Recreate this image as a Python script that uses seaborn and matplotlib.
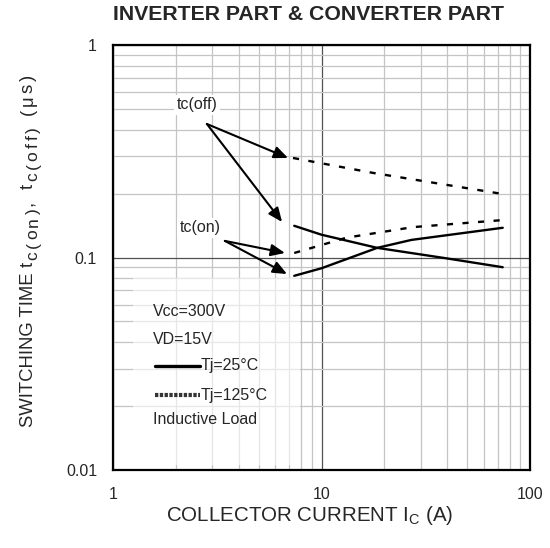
#!/usr/bin/env python3

import matplotlib
matplotlib.use("Agg")
import matplotlib.pyplot as plt
from matplotlib.patches import Rectangle
from matplotlib.ticker import LogLocator, NullFormatter, FixedLocator, FixedFormatter
import pandas as pd
import seaborn as sns

# Values (collector current in A, time in us)
on_25_current = [7.4, 10, 18.5, 27, 74]
on_25_time = [0.082, 0.089, 0.111, 0.121, 0.138]
off_25_current = [7.4, 10, 18.5, 40, 74]
off_25_time = [0.141, 0.128, 0.111, 0.099, 0.090]
on_125_current = [7.4, 13.2, 27.5, 74]
on_125_time = [0.105, 0.124, 0.139, 0.150]
off_125_current = [7.3, 17.7, 74]
off_125_time = [0.294, 0.250, 0.199]

x_ticks = [1, 10, 100]
x_tick_labels = ["1", "10", "100"]
y_ticks = [0.01, 0.1, 1]
y_tick_labels = ["0.01", "0.1", "1"]

conditions = ["Vcc=300V", "VD=15V", "Tj=25°C", "Tj=125°C", "Inductive Load"]

W, H = 550, 548


def make_frame():
    rows = []
    curves = [
        ("tc(on)", "25", on_25_current, on_25_time),
        ("tc(off)", "25", off_25_current, off_25_time),
        ("tc(on)", "125", on_125_current, on_125_time),
        ("tc(off)", "125", off_125_current, off_125_time),
    ]
    for kind, temp, xs, ys in curves:
        for x, y in zip(xs, ys):
            rows.append({"curve": f"{kind}-{temp}", "temp": temp,
                         "current": x, "time": y})
    return pd.DataFrame(rows)


def draw_ylabel(fig):
    """
    Vertical label built piece by piece: the subscripts in the original
    are large and loosely spaced, which mathtext can't reproduce.
    """
    renderer = fig.canvas.get_renderer()
    main_size, sub_size = 13.3, 12.5
    x_main, x_sub = 33, 37.5
    track, space = 2.8, 9.0
    y = 427.0

    def put(s, size, xb):
        t = fig.text(xb / W, 1 - y / H, s, rotation=90, rotation_mode="anchor",
                     ha="left", va="baseline", fontsize=size)
        return t.get_window_extent(renderer).height

    y -= put("SWITCHING TIME", main_size, x_main) + 5
    pieces = [("t", 0), ("c(on)", 1), (",", 0), (" ", 0), ("t", 0),
              ("c(off)", 1), (" ", 0), ("(μs)", 0)]
    for s, sub in pieces:
        if s == " ":
            y -= space
            continue
        for ch in s:
            h = put(ch, sub_size if sub else main_size, x_sub if sub else x_main)
            y -= h + track


def main():
    sns.set_theme(style="white")
    plt.rcParams["font.family"] = ["Liberation Sans", "DejaVu Sans"]
    plt.rcParams["mathtext.fontset"] = "custom"
    plt.rcParams["mathtext.rm"] = "Liberation Sans"

    df = make_frame()

    fig = plt.figure(figsize=(W / 100, H / 100), dpi=100)
    ax = fig.add_axes([113 / W, 1 - 470 / H, 417 / W, 425 / H])

    sns.lineplot(data=df[df.temp == "25"], x="current", y="time", units="curve",
                 estimator=None, color="black", lw=1.7, ax=ax, zorder=3)
    n_before = len(ax.lines)
    sns.lineplot(data=df[df.temp == "125"], x="current", y="time", units="curve",
                 estimator=None, color="black", lw=1.7, ax=ax, zorder=3)
    for line in ax.lines[n_before:]:
        line.set_dashes((2.6, 4.0))

    ax.set_xscale("log")
    ax.set_yscale("log")
    ax.set_xlim(1, 100)
    ax.set_ylim(0.01, 1)
    ax.set_xlabel("")
    ax.set_ylabel("")

    # grid: light minor lines, darker decade lines
    ax.xaxis.set_minor_locator(LogLocator(base=10, subs=range(2, 10)))
    ax.yaxis.set_minor_locator(LogLocator(base=10, subs=range(2, 10)))
    ax.xaxis.set_minor_formatter(NullFormatter())
    ax.yaxis.set_minor_formatter(NullFormatter())
    ax.xaxis.set_major_locator(FixedLocator(x_ticks))
    ax.xaxis.set_major_formatter(FixedFormatter(x_tick_labels))
    ax.yaxis.set_major_locator(FixedLocator(y_ticks))
    ax.yaxis.set_major_formatter(FixedFormatter(y_tick_labels))
    ax.grid(which="minor", color="#c4c4c4", lw=0.9)
    ax.grid(which="major", color="#505050", lw=0.9)
    ax.tick_params(which="both", length=0, labelsize=11.5, pad=11.5)
    ax.tick_params(axis="x", pad=12.5)

    for spine in ax.spines.values():
        spine.set_color("black")
        spine.set_linewidth(1.6)

    # washed-out area behind the conditions text
    ax.add_patch(Rectangle((0.048, 0.012), 0.40, 0.44, transform=ax.transAxes,
                           facecolor="white", alpha=0.6, edgecolor="none", zorder=1.5))

    # curve labels with arrows
    box = dict(facecolor="white", edgecolor="none", pad=2)
    ax.text(2.53, 0.522, "tc(off)", fontsize=11.5, ha="center", va="center", bbox=box, zorder=4)
    ax.text(2.61, 0.138, "tc(on)", fontsize=11.5, ha="center", va="center", bbox=box, zorder=4)
    arrow = dict(arrowstyle="-|>,head_length=0.7,head_width=0.3", color="black",
                 lw=1.5, shrinkA=0, shrinkB=0)
    for tip in [(6.91, 0.294), (6.47, 0.147)]:
        ax.annotate("", xy=tip, xytext=(2.82, 0.425), arrowprops=arrow, zorder=4)
    for tip in [(6.68, 0.105), (6.83, 0.0836)]:
        ax.annotate("", xy=tip, xytext=(3.44, 0.1197), arrowprops=arrow, zorder=4)

    # test conditions
    ys = [0.372, 0.306, 0.245, 0.176, 0.118]
    for i, (label, y) in enumerate(zip(conditions, ys)):
        x = 0.096
        if i == 2:
            ax.plot([0.101, 0.209], [y, y], color="black", lw=2.4,
                    transform=ax.transAxes, zorder=4)
            x = 0.209
        if i == 3:
            ax.plot([0.101, 0.209], [y, y], color="#333333", lw=3.0, ls=(0, (0.8, 0.35)),
                    transform=ax.transAxes, zorder=4)
            x = 0.209
        ax.text(x, y, label, fontsize=11.5, ha="left", va="center",
                transform=ax.transAxes, zorder=4)

    fig.text(309.5 / W, 1 - 521 / H, "COLLECTOR CURRENT I$\\mathregular{_C}$ (A)",
             fontsize=14.8, ha="center", va="baseline")
    draw_ylabel(fig)
    fig.text(308 / W, 1 - 15 / H, "INVERTER PART & CONVERTER PART", fontsize=15.3,
             fontweight="bold", ha="center", va="center")

    fig.savefig("out.png", dpi=100)


if __name__ == "__main__":
    main()
